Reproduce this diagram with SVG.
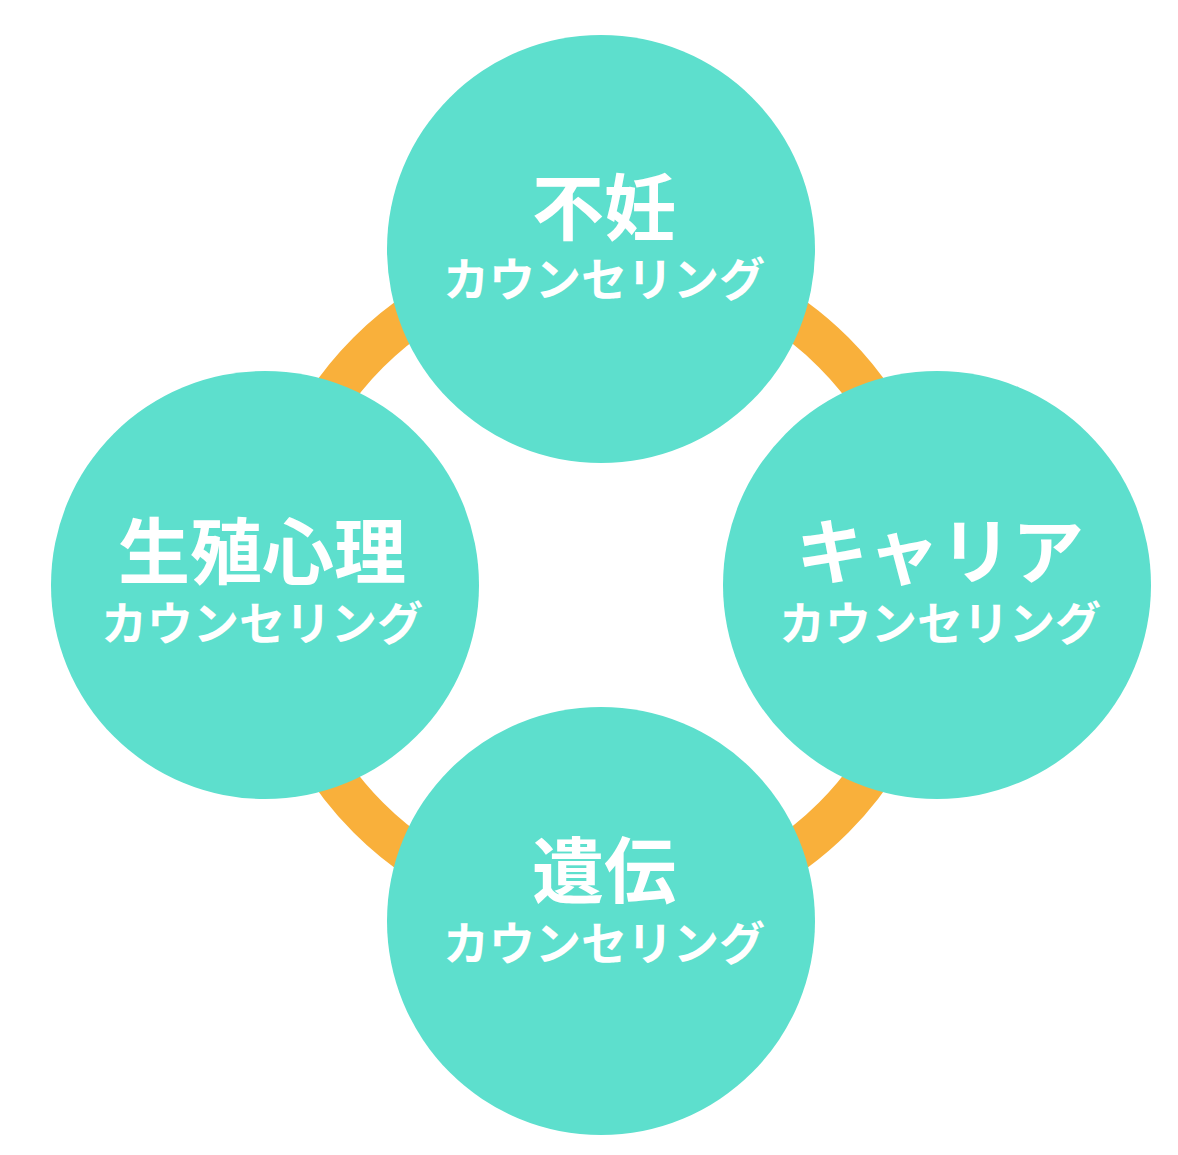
<svg xmlns="http://www.w3.org/2000/svg" width="1178" height="1155" viewBox="0 0 1178 1155">
<style>
.c{fill:#5DDFCD}
.t{fill:#fff;font-family:"Noto Sans CJK JP",sans-serif;font-weight:bold;text-anchor:middle}
.b{font-size:72px}
.s{font-size:46px}
</style>
<rect width="1178" height="1155" fill="#fff"/>
<g id="connectors"><circle cx="601" cy="585" r="329" fill="none" stroke="#F9B03B" stroke-width="42"/></g>
<g id="n1"><circle class="c" cx="601" cy="249" r="214"/><text class="t b" x="604" y="234">不妊</text><text class="t s" x="604" y="296">カウンセリング</text></g>
<g id="n2"><circle class="c" cx="265" cy="585" r="214"/><text class="t b" x="262" y="578">生殖心理</text><text class="t s" x="262" y="640">カウンセリング</text></g>
<g id="n3"><circle class="c" cx="937" cy="585" r="214"/><text class="t b" x="940" y="578">キャリア</text><text class="t s" x="940" y="640">カウンセリング</text></g>
<g id="n4"><circle class="c" cx="601" cy="921" r="214"/><text class="t b" x="604" y="897">遺伝</text><text class="t s" x="604" y="960">カウンセリング</text></g>
</svg>
